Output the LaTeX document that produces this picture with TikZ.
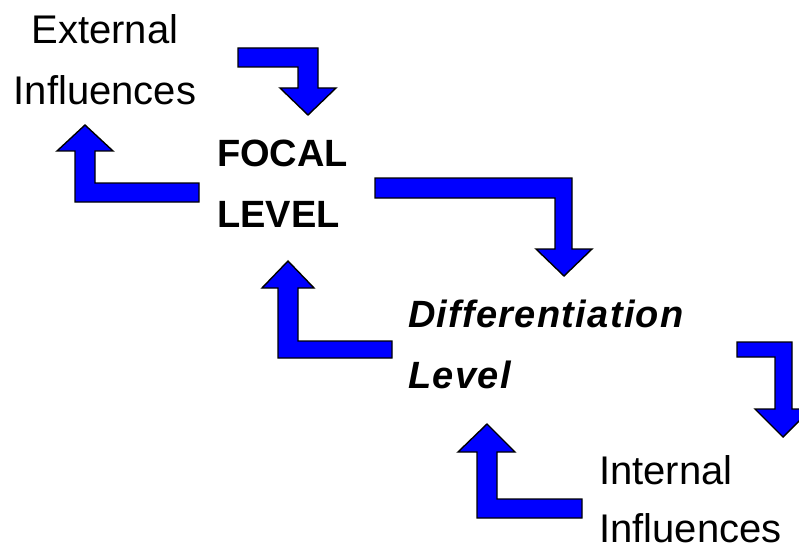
\documentclass[tikz,border=0pt]{standalone}
\usepackage{fontspec}
\setmainfont{Liberation Sans}
\newfontfamily\thinfont{Liberation Sans}
\newfontfamily\levelfont[LetterSpace=3.5]{Liberation Sans}
\begin{document}
\begin{tikzpicture}[x=1pt,y=-1pt,
  blockarrow/.style={fill={rgb,255:red,0;green,0;blue,255},draw=black,line width=1.4pt,line join=miter},
  influence/.style={inner sep=0pt,anchor=base,text depth=0pt,font=\thinfont\fontsize{40}{48}\selectfont},
  levelname/.style={inner sep=0pt,anchor=base west,text depth=0pt,font=\thinfont\bfseries\fontsize{38}{46}\selectfont},
  sublevel/.style={levelname,font=\levelfont\bfseries\itshape\fontsize{38}{46}\selectfont}]
\useasboundingbox (0,0) rectangle (799,548);

% labels
\node[influence] (ext1) at (105,44) {External};
\node[influence] (ext2) at (105,105) {Influences};
\node[levelname] (foc1) at (217,166) {FOCAL};
\node[levelname] (foc2) at (217,227) {LEVEL};
\node[sublevel] (dif1) at (408,327) {Differentiation};
\node[sublevel] (dif2) at (408,388) {Level};
\node[influence,anchor=base west] (int1) at (599,484) {Internal};
\node[influence,anchor=base west] (int2) at (599,542) {Influences};

% external influences -> focal level
\draw[blockarrow] (238,48) -- (318,48) -- (318,88) -- (336,88) -- (308,115)
  -- (280,88) -- (298,88) -- (298,67) -- (238,67) -- cycle;
% focal level -> external influences
\draw[blockarrow] (199,183) -- (199,202) -- (75,202) -- (75,151) -- (57,151)
  -- (85,125) -- (113,151) -- (95,151) -- (95,183) -- cycle;
% focal level -> differentiation level
\draw[blockarrow] (375,178) -- (572,178) -- (572,249) -- (592,249) -- (564,276)
  -- (536,249) -- (555,249) -- (555,198) -- (375,198) -- cycle;
% differentiation level -> focal level
\draw[blockarrow] (392,341) -- (392,358) -- (278,358) -- (278,288) -- (262,288)
  -- (288,261) -- (314,288) -- (298,288) -- (298,341) -- cycle;
% differentiation level -> internal influences
\draw[blockarrow] (737,342) -- (792,342) -- (792,409) -- (811,409) -- (783,437)
  -- (755,409) -- (775,409) -- (775,357) -- (737,357) -- cycle;
% internal influences -> differentiation level
\draw[blockarrow] (582,499) -- (582,518) -- (477,518) -- (477,452) -- (458,452)
  -- (487,424) -- (515,452) -- (497,452) -- (497,499) -- cycle;
\end{tikzpicture}
\end{document}
